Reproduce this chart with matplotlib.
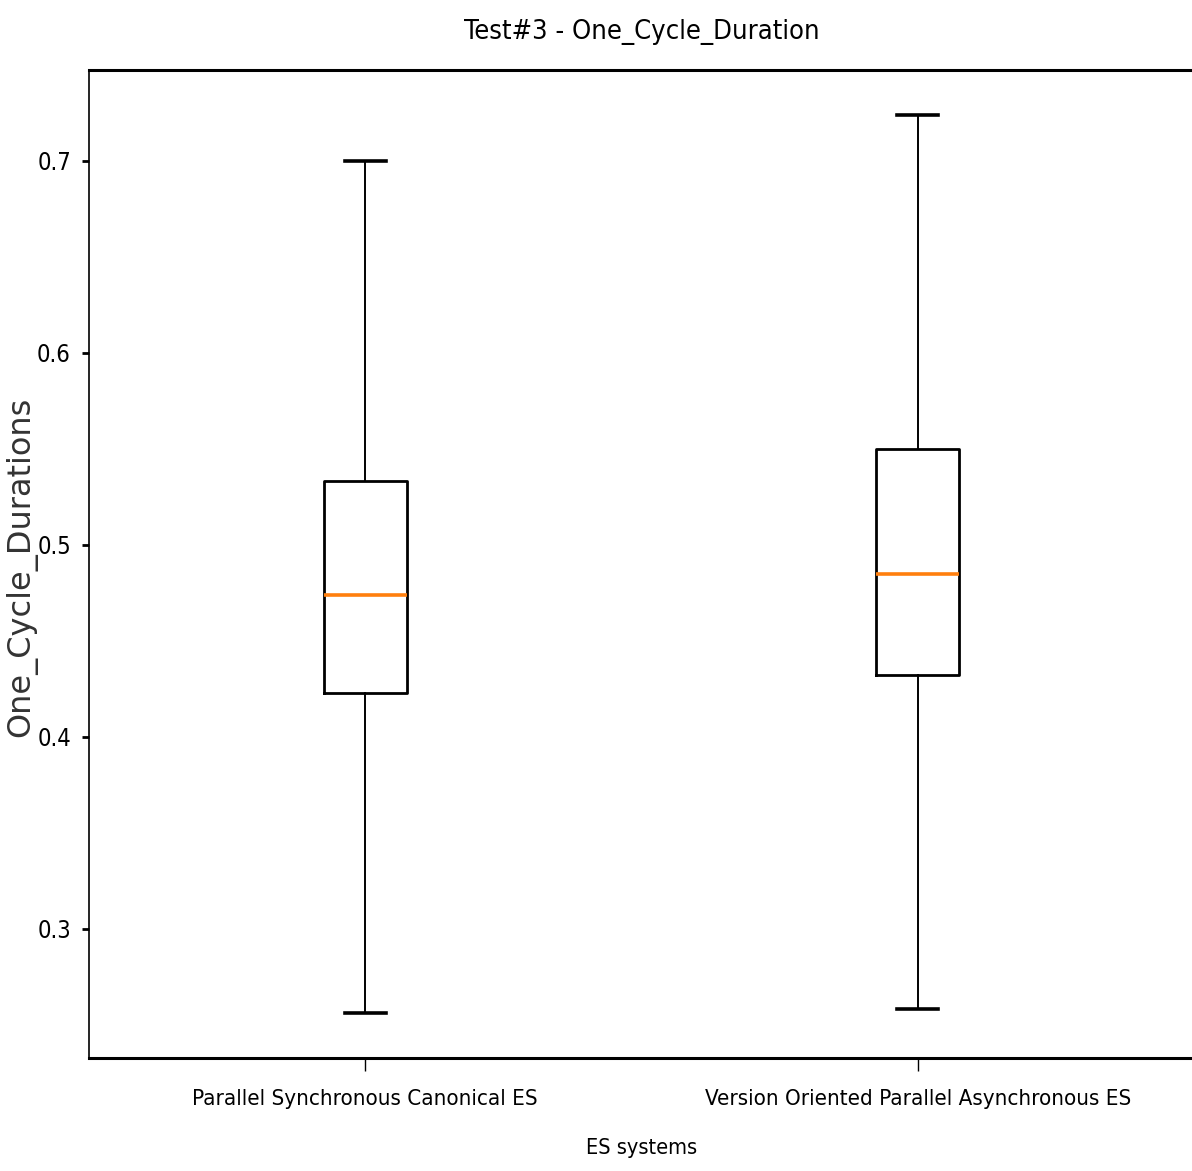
import matplotlib
matplotlib.use("Agg")
import matplotlib.pyplot as plt

# box statistics (whisker low, q1, median, q3, whisker high)
systems = ["Parallel Synchronous Canonical ES", "Version Oriented Parallel Asynchronous ES"]
whislo = [0.256, 0.258]
q1 = [0.423, 0.432]
med = [0.474, 0.485]
q3 = [0.533, 0.550]
whishi = [0.700, 0.724]

stats = []
for i in range(len(systems)):
    stats.append({"label": systems[i], "whislo": whislo[i], "q1": q1[i],
                  "med": med[i], "q3": q3[i], "whishi": whishi[i], "fliers": []})

fig = plt.figure(figsize=(11.92, 11.71), dpi=100)
ax = fig.add_axes([0.0747, 0.0965, 0.927, 0.8437])

ax.bxp(stats, showfliers=False,
       boxprops=dict(color="black", linewidth=2.0),
       whiskerprops=dict(color="black", linewidth=1.4),
       capprops=dict(color="black", linewidth=2.6),
       medianprops=dict(color="#ff7f0e", linewidth=2.6))

ax.spines["top"].set_linewidth(2.2)
ax.spines["bottom"].set_linewidth(2.2)
ax.spines["left"].set_linewidth(1.2)
ax.spines["right"].set_linewidth(1.2)

ax.set_yticks([0.3, 0.4, 0.5, 0.6, 0.7])
ax.tick_params(axis="x", length=9, width=1.0, pad=13)
ax.tick_params(axis="y", length=5, width=2.0, pad=8)
for lab in ax.get_xticklabels():
    lab.set_stretch("condensed")
    lab.set_fontsize(16)
for lab in ax.get_yticklabels():
    lab.set_stretch("condensed")
    lab.set_fontsize(17)

ax.set_title("Test#3 - One_Cycle_Duration", fontsize=19.5, stretch="condensed", pad=22)
ax.set_xlabel("ES systems", fontsize=15.6, stretch="condensed")
ax.xaxis.set_label_coords(0.5, -0.081)
ax.set_ylabel("One_Cycle_Durations", fontsize=23, color="#333333")
ax.yaxis.set_label_coords(-0.047, 0.497)

fig.savefig("out.png", dpi=100)
